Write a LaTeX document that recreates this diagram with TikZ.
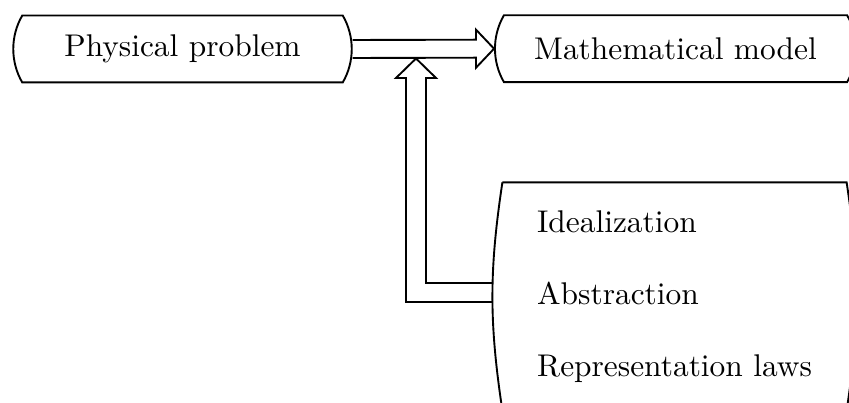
\documentclass[tikz,border=0pt]{standalone}
\usetikzlibrary{shapes.misc,calc}
\begin{document}
\begin{tikzpicture}[x=0.3185pt,y=-0.3185pt,
  box/.style={draw,line width=0.6pt,rounded rectangle,
    rounded rectangle arc length=60,inner sep=0pt,
    font=\fontsize{10}{23}\selectfont},
  tallbox/.style={inner sep=0pt,font=\fontsize{10}{23}\selectfont},
  outline/.style={line width=0.6pt},
  dblarrow/.style={draw,line width=0.6pt,line join=miter}]
\useasboundingbox (0,0) rectangle (849,403);
\clip (0,0) rectangle (849,403);

% the two upper boxes
\node[box,minimum width=107.8pt,minimum height=21.3pt] (pp) at (182.5,49) {Physical problem};
\node[box,minimum width=115pt,minimum height=21.3pt] (mm) at (675.5,48.7) {Mathematical model};

% the tall lower box: text node, outline with shallow arcs on both sides
\node[tallbox,minimum width=115.6pt,minimum height=72.3pt,align=left] (rb) at (674.5,296.5)
  {Idealization\\Abstraction\\Representation laws};
\draw[outline] ($(rb.north west)+(10,0)$) -- ($(rb.north east)+(-10,0)$)
  to[bend left=8.6] ($(rb.south east)+(-10,0)$)
  -- ($(rb.south west)+(10,0)$)
  to[bend left=8.6] ($(rb.north west)+(10,0)$);

% horizontal hollow arrow
\draw[dblarrow] ($(pp.east)+(0,-9)$) -- ($(mm.west)+(-18,-9)$)
  -- ($(mm.west)+(-18,-19)$) -- (mm.west) -- ($(mm.west)+(-18,19)$)
  -- ($(mm.west)+(-18,9)$) -- ($(pp.east)+(0,9)$);

% vertical hollow arrow from the lower box
\coordinate (vt) at (416,58.5);
\coordinate (va) at ($(rb.west)+(0,-4)$);
\coordinate (vL) at ($(vt)+(-10,0)$);
\coordinate (vR) at ($(vt)+(10,0)$);
\coordinate (aO) at ($(va)+(0,9.5)$);
\coordinate (aI) at ($(va)+(0,-9.5)$);
\draw[dblarrow] (aO) -- (vL |- aO) -- ($(vL)+(0,19.5)$)
  -- ($(vt)+(-20,19.5)$) -- (vt) -- ($(vt)+(20,19.5)$)
  -- ($(vR)+(0,19.5)$) -- (vR |- aI) -- (aI);
\end{tikzpicture}
\end{document}
